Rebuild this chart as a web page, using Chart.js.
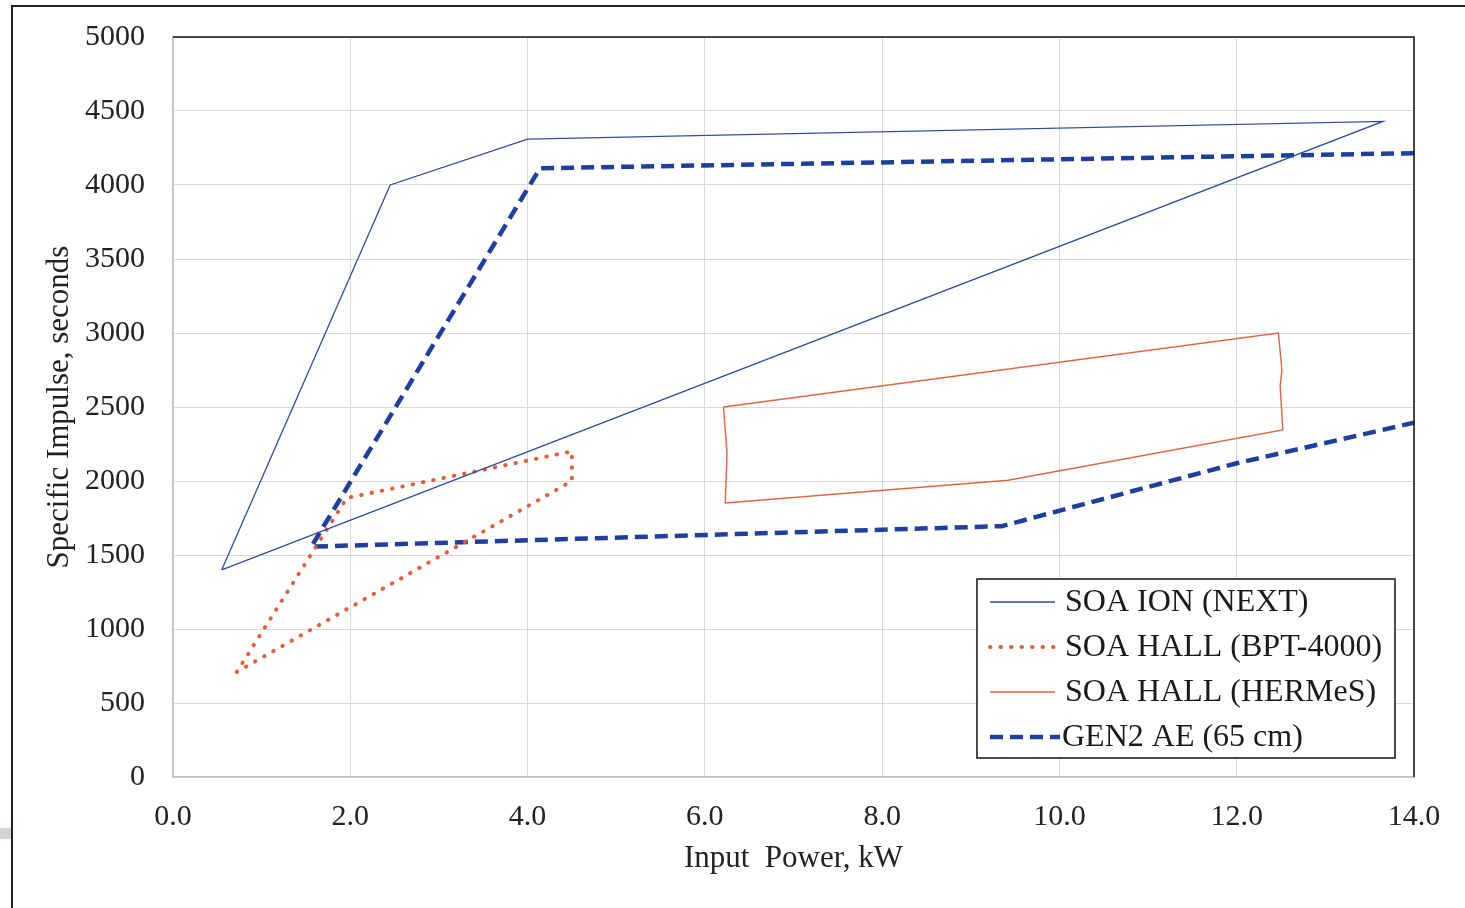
<!DOCTYPE html>
<html>
<head>
<meta charset="utf-8">
<script src="https://cdn.jsdelivr.net/npm/chart.js@4.4.1/dist/chart.umd.min.js"></script>
<style>
  html, body { margin: 0; padding: 0; background: #fff; }
  #wrap { position: relative; width: 1465px; height: 908px; }
  #frame { position: absolute; left: 11px; top: 5px; right: 0; bottom: 0;
           border-left: 2px solid #222; border-top: 2px solid #222; }
  #tab { position: absolute; left: 0; top: 828px; width: 11px; height: 11px; background: #cfd4d8; }
</style>
</head>
<body>
<div id="wrap">
  <canvas id="ispChart"></canvas>
  <div id="frame"></div>
  <div id="tab"></div>
</div>
<script>
// Dados (potência kW x impulso específico s)
const nextX = [0.55, 2.45, 4.0, 13.65, 0.55];
const nextY = [1400, 4000, 4310, 4430, 1400];

const bptX = [0.72, 1.96, 4.5, 4.5, 0.72];
const bptY = [710, 1885, 2200, 2000, 710];

const hermesX = [6.21, 12.47, 12.51, 12.49, 12.52, 9.42, 6.23, 6.25, 6.21];
const hermesY = [2500, 3000, 2750, 2640, 2345, 2005, 1852, 2190, 2500];

const gen2X = [14.0, 4.14, 1.56, 9.35, 12.0, 14.0];
const gen2Y = [4215, 4113, 1556, 1695, 2120, 2394];

const xTicks = [0, 2, 4, 6, 8, 10, 12, 14];
const yTicks = [0, 500, 1000, 1500, 2000, 2500, 3000, 3500, 4000, 4500, 5000];

const toPoints = (xs, ys) => xs.map((x, i) => ({ x: x, y: ys[i] }));
const serif = 'Liberation Serif';

// Moldura superior/direita da área do gráfico
const plotBorder = {
    id: 'plotBorder',
    afterDatasetsDraw(chart) {
        const { ctx, chartArea: a } = chart;
        ctx.save();
        ctx.strokeStyle = '#111';
        ctx.lineWidth = 1.5;
        ctx.beginPath();
        ctx.moveTo(a.left, a.top);
        ctx.lineTo(a.right, a.top);
        ctx.lineTo(a.right, a.bottom);
        ctx.stroke();
        ctx.restore();
    }
};

// Legenda desenhada dentro da área do gráfico
const boxLegend = {
    id: 'boxLegend',
    afterDraw(chart) {
        const { ctx } = chart;
        const bx = 977, by = 579, bw = 418, bh = 179;
        ctx.save();
        ctx.fillStyle = '#fff';
        ctx.fillRect(bx, by, bw, bh);
        ctx.strokeStyle = '#111';
        ctx.lineWidth = 1.5;
        ctx.strokeRect(bx, by, bw, bh);
        ctx.font = '32px "' + serif + '"';
        ctx.textBaseline = 'middle';
        chart.data.datasets.forEach((ds, i) => {
            const cy = by + 23 + i * 45;
            ctx.strokeStyle = ds.borderColor;
            ctx.lineWidth = ds.borderWidth;
            ctx.lineCap = ds.borderCapStyle || 'butt';
            ctx.setLineDash(ds.borderDash || []);
            ctx.beginPath();
            ctx.moveTo(990, cy);
            ctx.lineTo(i === 3 ? 1060 : 1055, cy);
            ctx.stroke();
            ctx.setLineDash([]);
            ctx.fillStyle = '#1a1a1a';
            ctx.fillText(ds.label, i === 3 ? 1062 : 1065, cy + 1);
        });
        ctx.restore();
    }
};

const ctx = document.getElementById('ispChart').getContext('2d');
const ispChart = new Chart(ctx, {
    type: 'scatter',
    data: {
        datasets: [{
            label: 'SOA ION (NEXT)',
            data: toPoints(nextX, nextY),
            borderColor: '#2f4d9e',
            borderWidth: 1.3
        }, {
            label: 'SOA HALL (BPT-4000)',
            data: toPoints(bptX, bptY),
            borderColor: '#e0603a',
            borderWidth: 4,
            borderDash: [0.5, 10],
            borderCapStyle: 'round'
        }, {
            label: 'SOA HALL (HERMeS)',
            data: toPoints(hermesX, hermesY),
            borderColor: '#e4643e',
            borderWidth: 1.4
        }, {
            label: 'GEN2 AE (65 cm)',
            data: toPoints(gen2X, gen2Y),
            borderColor: '#1f3f9f',
            borderWidth: 4.5,
            borderDash: [13, 7]
        }]
    },
    options: {
        responsive: true,
        maintainAspectRatio: false,
        animation: false,
        showLine: true,
        elements: {
            point: { radius: 0, hoverRadius: 0 },
            line: { tension: 0, fill: false }
        },
        layout: { padding: { left: 37, right: 51, top: 37, bottom: 27 } },
        plugins: {
            legend: { display: false },
            tooltip: { enabled: false }
        },
        scales: {
            x: {
                type: 'linear',
                min: 0,
                max: 14,
                afterFit: (s) => { s.height = 104; },
                afterBuildTicks: (s) => { s.ticks = xTicks.map(v => ({ value: v })); },
                grid: { color: '#d9d9d9', tickColor: 'transparent', tickLength: 16 },
                border: { color: '#bfbfbf', width: 1.5 },
                ticks: {
                    padding: 6,
                    color: '#222',
                    font: { family: serif, size: 30 },
                    callback: (v) => v.toFixed(1)
                },
                title: {
                    display: true,
                    text: 'Input  Power, kW',
                    color: '#222',
                    font: { family: serif, size: 31 }
                }
            },
            y: {
                type: 'linear',
                min: 0,
                max: 5000,
                afterFit: (s) => { s.width = 136; },
                afterBuildTicks: (s) => { s.ticks = yTicks.map(v => ({ value: v })); },
                grid: { color: '#d9d9d9', tickColor: 'transparent', tickLength: 22 },
                border: { color: '#bfbfbf', width: 1.5 },
                ticks: {
                    padding: 6,
                    color: '#222',
                    font: { family: serif, size: 30 },
                    callback: (v) => String(v)
                },
                title: {
                    display: true,
                    text: 'Specific Impulse, seconds',
                    color: '#222',
                    font: { family: serif, size: 31 }
                }
            }
        }
    },
    plugins: [plotBorder, boxLegend]
});
</script>
</body>
</html>
